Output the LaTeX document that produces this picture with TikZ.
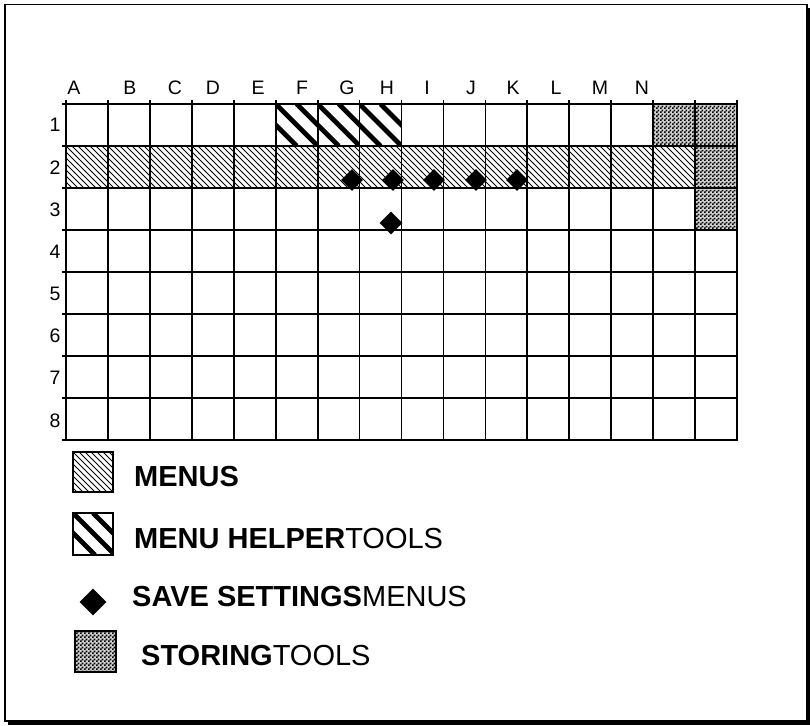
\documentclass[tikz,border=0pt]{standalone}
\usepackage{fontspec}
\setmainfont{Liberation Sans}
\usetikzlibrary{shapes.geometric,patterns}
\pgfdeclarepatternformonly{checker}{\pgfqpoint{0pt}{0pt}}{\pgfqpoint{4pt}{4pt}}{\pgfqpoint{4pt}{4pt}}{%
  \pgfpathrectangle{\pgfqpoint{0pt}{0pt}}{\pgfqpoint{2pt}{2pt}}%
  \pgfpathrectangle{\pgfqpoint{2pt}{2pt}}{\pgfqpoint{2pt}{2pt}}%
  \pgfusepath{fill}}
\begin{document}
\begin{tikzpicture}[x=1pt,y=-1pt,
  gridline/.style={line width=1.8pt,line cap=rect},
  swatch/.style={line width=1.8pt},
  fineline/.style={line width=1pt},
  thickstripe/.style={line width=4.8pt},
  checkfill/.style={fill=black!18},
  lbl/.style={font=\fontsize{19.5}{19.5}\selectfont, inner sep=0pt},
  leg/.style={font=\fontsize{29}{29}\selectfont, inner sep=0pt, anchor=base west},
  gem/.style={diamond, fill=black, inner sep=0pt, minimum size=22pt},
]
\useasboundingbox (0,0) rectangle (810,725);
\def\cw{41.94}
% frame with shadow
\fill (807,8) rectangle (810,725);
\fill (8,721) rectangle (810,725);
\draw[line width=1.2pt] (5,4.5) rectangle (807,721);

% MENUS row (fine diagonal lines)
\begin{scope}
  \clip (66,146) rectangle (695,188);
  \foreach \k in {-8,...,106} \draw[fineline] ({66+6*\k},146) -- ++(42,42);
\end{scope}
% MENU HELPER cells F1, G1, H1
\foreach \i in {5,6,7}{
  \begin{scope}
    \clip ({66+\cw*\i},104) rectangle ++(\cw,42);
    \foreach \o in {-21,0,21} \draw[thickstripe] ({66+\cw*\i+\o},104) -- ++(42,42);
  \end{scope}
}
% STORING cells
\fill[checkfill] (653,104) rectangle (737,146);
\fill[checkfill] (695,146) rectangle (737,230);
\fill[pattern=checker] (653,104) rectangle (737,146);
\fill[pattern=checker] (695,146) rectangle (737,230);

% grid
\foreach \i in {0,...,16} \draw[gridline] ({66+\cw*\i},101) -- ({66+\cw*\i},440);
\foreach \j in {0,...,8} \draw[gridline] (63,{104+42*\j}) -- (737,{104+42*\j});
\draw[line width=2.6pt] (63,146) -- (737,146);
\draw[line width=2.6pt] (63,188) -- (737,188);

% column labels
\foreach \t/\x in {A/74,B/130,C/175,D/213,E/258,F/302,G/347,H/387,I/427,J/471,K/513,L/556,M/600,N/642}
  \node[lbl] (col\t) at (\x,88) {\t};
% row labels
\foreach \r/\y in {1/125,2/168,3/210,4/252,5/294,6/336,7/378,8/421}
  \node[lbl] (row\r) at (55,\y) {\r};

% save-settings markers
\node[gem] (d1) at (352,180) {};
\node[gem] (d2) at (393,180) {};
\node[gem] (d3) at (434,180) {};
\node[gem] (d4) at (476,180) {};
\node[gem] (d5) at (517,180) {};
\node[gem,minimum size=23pt] (d6) at (391,223) {};

% legend swatches
\begin{scope}
  \clip (73,452) rectangle (113,492);
  \foreach \k in {-8,...,8} \draw[fineline] ({73+6*\k},452) -- ++(42,42);
\end{scope}
\draw[swatch] (73,452) rectangle (113,492);
\begin{scope}
  \clip (73,513) rectangle (113,555);
  \foreach \o in {-20,0,20} \draw[thickstripe] ({73+\o},513) -- ++(42,42);
\end{scope}
\draw[swatch] (73,513) rectangle (113,555);
\node[gem,minimum size=27pt] (dleg) at (93,602) {};
\fill[checkfill] (75,631) rectangle (116,672);
\fill[pattern=checker] (75,631) rectangle (116,672);
\draw[swatch] (75,631) rectangle (116,672);

% legend texts
\node[leg] (legmenus) at (134,486) {\textbf{MENUS}};
\node[leg] (leghelper) at (134,548) {\textbf{MENU HELPER}TOOLS};
\node[leg] (legsave) at (132,606) {\textbf{SAVE SETTINGS}MENUS};
\node[leg] (legstore) at (141,665) {\textbf{STORING}TOOLS};
\end{tikzpicture}
\end{document}
